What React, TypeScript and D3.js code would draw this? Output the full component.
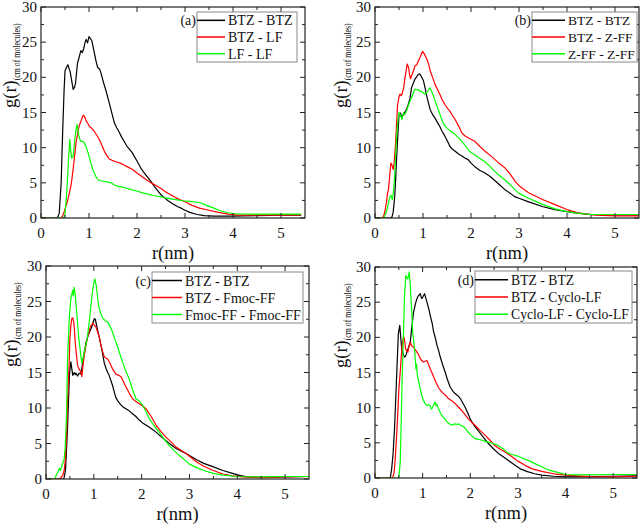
import React from "react";
import * as d3 from "d3";

type Pt = [number, number];

// ---------- data (r in nm, g(r)) ----------
const xTicks = [0, 1, 2, 3, 4, 5];
const yTicks = [0, 5, 10, 15, 20, 25, 30];

const aBtzBtz: Pt[] = [[0,0],[0.33,0],[0.36,0.3],[0.38,0.7],[0.42,5],[0.45,12],[0.48,18],[0.5,20.9],[0.53,21.4],[0.56,21.8],[0.61,20.7],[0.64,19.5],[0.67,18.3],[0.7,18.6],[0.72,19.2],[0.76,22],[0.8,23],[0.83,23.8],[0.86,23.5],[0.89,24.1],[0.92,25],[0.94,25.4],[0.97,24.9],[1.0,25.8],[1.03,25.5],[1.06,25.2],[1.11,23.5],[1.15,22.2],[1.18,21.4],[1.22,21.2],[1.25,20.6],[1.3,19.3],[1.35,18.2],[1.42,16.4],[1.48,14.8],[1.53,13.5],[1.58,12.8],[1.63,12.2],[1.68,11.5],[1.74,10.8],[1.8,10.1],[1.84,9.8],[1.9,9.3],[1.94,8.8],[2.0,8.1],[2.08,7.1],[2.15,6.4],[2.22,5.8],[2.29,5.2],[2.36,4.5],[2.43,3.9],[2.5,3.3],[2.57,2.9],[2.64,2.5],[2.75,2.0],[2.85,1.6],[2.92,1.4],[3.0,1.1],[3.1,0.8],[3.25,0.5],[3.4,0.35],[3.6,0.28],[4.0,0.28],[4.5,0.35],[5.0,0.4],[5.42,0.42]];
const aBtzLf: Pt[] = [[0,0],[0.42,0],[0.45,0.3],[0.49,1.0],[0.52,1.7],[0.56,2.6],[0.59,3.5],[0.63,4.8],[0.66,6.4],[0.7,8.8],[0.73,10.7],[0.77,12.3],[0.8,13.2],[0.84,13.9],[0.87,14.5],[0.89,14.6],[0.92,14.2],[0.94,13.8],[0.98,13.4],[1.01,13.0],[1.05,12.8],[1.11,12.3],[1.16,11.8],[1.22,11.1],[1.27,10.3],[1.32,9.5],[1.37,8.9],[1.42,8.4],[1.48,8.2],[1.56,8.0],[1.65,7.8],[1.74,7.5],[1.82,7.2],[1.91,6.9],[2.0,6.4],[2.08,6.0],[2.18,5.5],[2.29,5.0],[2.4,4.6],[2.5,4.2],[2.6,3.7],[2.7,3.3],[2.8,2.9],[2.9,2.6],[3.0,2.3],[3.15,1.8],[3.3,1.4],[3.5,1.1],[3.7,0.8],[3.9,0.55],[4.1,0.4],[4.5,0.4],[5.0,0.42],[5.42,0.45]];
const aLfLf: Pt[] = [[0,0],[0.47,0],[0.5,0.5],[0.54,4],[0.57,8],[0.6,11.2],[0.62,9.5],[0.64,8.5],[0.67,8.8],[0.7,10.8],[0.72,12.1],[0.75,13.3],[0.77,12.6],[0.78,11.9],[0.81,11.2],[0.83,10.9],[0.87,10.9],[0.9,10.7],[0.94,10.1],[0.97,9.5],[1.0,8.8],[1.04,7.8],[1.08,6.9],[1.11,6.4],[1.15,5.8],[1.19,5.4],[1.25,5.3],[1.32,5.2],[1.4,5.1],[1.46,5.0],[1.53,4.7],[1.6,4.5],[1.7,4.4],[1.8,4.2],[1.9,4.0],[2.01,3.8],[2.1,3.6],[2.22,3.4],[2.35,3.2],[2.5,3.0],[2.65,2.8],[2.8,2.6],[2.95,2.45],[3.1,2.35],[3.3,2.2],[3.45,1.8],[3.6,1.4],[3.75,1.0],[3.9,0.75],[4.05,0.6],[4.5,0.55],[5.0,0.55],[5.42,0.55]];

const bBtzBtz: Pt[] = [[0,0],[0.34,0],[0.36,0.3],[0.38,0.9],[0.41,3],[0.43,5.4],[0.45,8.5],[0.47,11.1],[0.49,13.5],[0.5,14.7],[0.53,14.9],[0.56,14.2],[0.59,14.8],[0.62,15],[0.66,15.5],[0.69,16.1],[0.73,17],[0.76,18.5],[0.8,19.2],[0.83,19.7],[0.87,20.1],[0.9,20.4],[0.93,20.5],[0.96,20.2],[1.01,19.5],[1.05,18.3],[1.08,17.3],[1.12,16.2],[1.15,15.4],[1.2,14.7],[1.25,14.2],[1.3,13.6],[1.35,13.0],[1.4,12.3],[1.46,11.6],[1.51,10.9],[1.56,10.2],[1.61,9.8],[1.67,9.5],[1.74,9.1],[1.81,8.8],[1.88,8.5],[1.94,8.3],[2.0,7.8],[2.08,7.3],[2.18,6.8],[2.29,6.4],[2.4,5.9],[2.5,5.3],[2.6,4.7],[2.71,4.0],[2.82,3.5],[2.92,3.0],[3.0,2.8],[3.2,2.3],[3.5,1.6],[3.75,1.2],[4.0,0.9],[4.25,0.65],[4.5,0.5],[5.0,0.45],[5.5,0.45]];
const bBtzZff: Pt[] = [[0,0],[0.16,0],[0.19,0.5],[0.21,1.1],[0.24,2.3],[0.26,3.5],[0.28,4],[0.3,5.5],[0.33,7.8],[0.35,7.6],[0.38,6.9],[0.4,8],[0.43,10.7],[0.45,13.5],[0.47,16.1],[0.5,17.2],[0.52,17.6],[0.55,17.4],[0.57,17.8],[0.6,18.6],[0.62,19.7],[0.65,21],[0.67,21.9],[0.7,21.4],[0.72,20.4],[0.74,19.8],[0.76,20.2],[0.8,20.9],[0.83,21.6],[0.87,21.8],[0.9,22.3],[0.95,23.0],[0.99,23.7],[1.03,23.3],[1.08,22.6],[1.12,21.8],[1.15,20.9],[1.2,20.0],[1.25,19.0],[1.3,18.3],[1.35,17.6],[1.4,16.8],[1.46,16.1],[1.51,15.6],[1.56,15.2],[1.61,14.6],[1.67,14.0],[1.74,13.1],[1.81,12.1],[1.87,11.7],[1.94,11.4],[2.0,11.2],[2.08,10.9],[2.18,10.2],[2.29,9.5],[2.4,8.9],[2.5,8.3],[2.6,7.7],[2.71,7.1],[2.82,6.2],[2.92,5.2],[3.0,4.6],[3.2,3.6],[3.5,2.6],[3.75,1.9],[4.0,1.2],[4.2,0.8],[4.4,0.55],[4.6,0.4],[5.0,0.3],[5.5,0.3]];
const bZffZff: Pt[] = [[0,0],[0.18,0],[0.21,0.4],[0.25,1.2],[0.28,2.1],[0.31,3.0],[0.34,3.2],[0.36,2.6],[0.38,3.5],[0.4,5],[0.42,7.5],[0.45,11.6],[0.48,14],[0.5,15],[0.53,14.6],[0.56,14],[0.59,14.9],[0.62,14.7],[0.66,15.3],[0.69,15.9],[0.72,16.5],[0.76,17.1],[0.8,17.8],[0.83,18.3],[0.87,18.2],[0.9,18.3],[0.94,18.0],[0.97,18.0],[1.0,17.8],[1.04,17.6],[1.07,17.8],[1.1,18],[1.13,18.4],[1.15,18.5],[1.18,18.0],[1.22,17.3],[1.27,16.3],[1.32,15.4],[1.37,14.4],[1.42,13.5],[1.47,13.0],[1.53,12.6],[1.6,12.2],[1.67,11.9],[1.74,11.4],[1.81,10.9],[1.88,10.3],[1.94,9.7],[2.0,9.3],[2.08,9.0],[2.18,8.5],[2.29,8.0],[2.4,7.3],[2.5,6.6],[2.6,6.0],[2.71,5.4],[2.82,4.7],[2.92,4.0],[3.0,3.5],[3.2,2.8],[3.5,1.9],[3.75,1.3],[4.0,0.9],[4.25,0.65],[4.5,0.5],[5.0,0.5],[5.5,0.5]];

const cBtzBtz: Pt[] = [[0,0],[0.37,0],[0.39,0.5],[0.41,1.5],[0.45,7.1],[0.47,11],[0.49,14.6],[0.51,16],[0.52,16.5],[0.54,15.5],[0.56,14.6],[0.59,15],[0.61,14.7],[0.63,14.9],[0.66,14.5],[0.69,14.9],[0.73,14.8],[0.76,16],[0.79,17.4],[0.84,19.3],[0.87,20.0],[0.91,20.7],[0.95,21.3],[0.98,21.9],[1.01,22.6],[1.03,22.5],[1.06,21.6],[1.09,20.6],[1.12,19.8],[1.16,18.5],[1.19,17.4],[1.22,16.3],[1.26,15.5],[1.29,15.0],[1.32,14.6],[1.36,13.8],[1.39,13.2],[1.43,12.2],[1.46,11.5],[1.5,11.0],[1.57,10.4],[1.62,10.1],[1.67,9.9],[1.74,9.6],[1.81,9.2],[1.88,8.8],[1.95,8.3],[2.02,7.9],[2.09,7.6],[2.2,7.1],[2.3,6.6],[2.4,6.0],[2.51,5.4],[2.62,4.8],[2.72,4.3],[2.83,3.9],[2.93,3.6],[3.0,3.3],[3.15,2.7],[3.3,2.2],[3.5,1.7],[3.7,1.2],[3.9,0.8],[4.05,0.5],[4.2,0.3],[4.5,0.25],[5.0,0.3],[5.5,0.35]];
const cBtzFmoc: Pt[] = [[0,0],[0.29,0],[0.32,0.3],[0.35,0.5],[0.38,1.2],[0.4,2.4],[0.43,6],[0.45,10.8],[0.48,15.5],[0.5,19.8],[0.52,21.6],[0.54,22.6],[0.56,22.7],[0.58,22.1],[0.6,20.5],[0.61,19.3],[0.64,17.3],[0.66,16.0],[0.69,15.5],[0.71,15.3],[0.73,15.1],[0.75,14.4],[0.77,15.8],[0.8,17.4],[0.84,19.0],[0.87,20.0],[0.91,21.0],[0.94,21.6],[0.98,21.9],[1.01,21.7],[1.05,21.3],[1.08,20.7],[1.12,19.8],[1.15,18.8],[1.19,17.8],[1.22,17.2],[1.26,17.0],[1.29,16.9],[1.33,16.4],[1.36,16.0],[1.4,15.4],[1.46,14.8],[1.52,14.6],[1.57,14.4],[1.62,13.7],[1.67,13.0],[1.74,12.1],[1.81,11.3],[1.88,10.9],[1.95,10.6],[2.02,10.3],[2.09,9.9],[2.2,8.8],[2.3,7.6],[2.4,6.7],[2.51,5.9],[2.62,5.2],[2.72,4.5],[2.83,4.0],[2.93,3.6],[3.0,3.2],[3.15,2.4],[3.3,1.8],[3.5,1.2],[3.7,0.7],[3.9,0.45],[4.1,0.3],[4.5,0.2],[5.0,0.3],[5.5,0.35]];
const cFmocFmoc: Pt[] = [[0,0],[0.19,0],[0.21,0.5],[0.25,1.0],[0.28,1.5],[0.3,1.2],[0.33,1.8],[0.35,2.2],[0.38,2.8],[0.4,4.3],[0.43,9],[0.45,16.5],[0.47,20],[0.49,23],[0.52,25.4],[0.54,26],[0.56,26.6],[0.57,25.8],[0.59,27],[0.61,26],[0.63,24.4],[0.66,22],[0.68,20.2],[0.71,18.5],[0.73,17.2],[0.75,16.3],[0.78,17.2],[0.8,17.9],[0.84,19],[0.87,20.2],[0.91,22.5],[0.94,24.4],[0.97,26.3],[1.0,27.6],[1.02,28.2],[1.05,27.3],[1.08,25.5],[1.1,24.4],[1.14,23.4],[1.19,22.6],[1.24,22.3],[1.29,22.1],[1.34,21.5],[1.39,20.7],[1.44,19.7],[1.5,18.6],[1.55,17.5],[1.6,16.5],[1.67,15.2],[1.74,14.1],[1.81,12.6],[1.88,11.3],[1.95,11.0],[2.02,10.4],[2.09,9.5],[2.16,8.5],[2.26,7.5],[2.37,6.6],[2.47,5.6],[2.58,4.7],[2.68,4.0],[2.79,3.3],[2.9,2.7],[3.0,2.1],[3.15,1.6],[3.3,1.2],[3.5,0.8],[3.7,0.55],[4.0,0.35],[4.5,0.3],[5.0,0.35],[5.5,0.35]];

const dBtzBtz: Pt[] = [[0,0],[0.32,0],[0.35,1.3],[0.38,3.5],[0.41,7],[0.44,12],[0.46,15.5],[0.49,20.5],[0.52,21.7],[0.54,20.0],[0.56,18.4],[0.59,17.6],[0.62,17.2],[0.64,17.3],[0.67,17.9],[0.7,18.5],[0.74,19.3],[0.77,21.3],[0.81,23.6],[0.85,24.8],[0.88,25.5],[0.91,25.9],[0.95,26.2],[0.98,25.5],[1.01,25.8],[1.04,26.2],[1.07,25.5],[1.09,25.0],[1.13,24.0],[1.16,23.1],[1.2,22.0],[1.23,20.8],[1.27,19.8],[1.3,18.9],[1.34,18.0],[1.37,17.2],[1.42,16.1],[1.47,15.1],[1.52,14.0],[1.58,12.9],[1.63,12.4],[1.68,12.0],[1.74,11.7],[1.79,11.3],[1.84,10.7],[1.89,10.1],[1.95,9.2],[2.0,8.4],[2.05,7.8],[2.1,7.3],[2.17,6.7],[2.24,6.1],[2.31,5.5],[2.38,4.9],[2.48,4.2],[2.59,3.5],[2.7,3.0],[2.8,2.5],[2.94,1.8],[3.05,1.3],[3.2,0.9],[3.35,0.6],[3.5,0.4],[3.75,0.25],[4.0,0.15],[4.5,0.2],[5.0,0.25],[5.5,0.3]];
const dBtzCyclo: Pt[] = [[0,0],[0.37,0],[0.4,0.8],[0.42,2.3],[0.45,5.5],[0.48,9.4],[0.5,12.5],[0.53,15.1],[0.55,17.2],[0.57,18.9],[0.59,19.8],[0.61,20.0],[0.63,19.2],[0.64,18.4],[0.67,18.0],[0.69,17.9],[0.71,18.6],[0.74,19.3],[0.77,18.8],[0.81,18.6],[0.84,18.3],[0.88,17.9],[0.91,17.6],[0.95,17.0],[0.98,16.7],[1.02,16.5],[1.05,16.6],[1.09,16.7],[1.12,16.2],[1.16,15.5],[1.2,14.9],[1.23,14.4],[1.28,13.6],[1.33,12.9],[1.38,12.4],[1.44,12.0],[1.49,11.7],[1.54,11.3],[1.61,11.0],[1.68,10.6],[1.75,10.1],[1.82,9.6],[1.89,9.0],[1.96,8.4],[2.03,7.9],[2.1,7.5],[2.2,6.8],[2.31,6.1],[2.41,5.4],[2.52,4.6],[2.63,4.1],[2.73,3.7],[2.84,3.2],[2.94,2.7],[3.0,2.4],[3.15,1.8],[3.3,1.3],[3.5,0.95],[3.75,0.6],[4.0,0.4],[4.5,0.2],[5.0,0.15],[5.5,0.25]];
const dCycloCyclo: Pt[] = [[0,0],[0.5,0],[0.53,2.3],[0.55,8],[0.57,14.1],[0.6,21],[0.62,26],[0.64,28.0],[0.65,28.8],[0.67,28.5],[0.69,28.3],[0.71,29.0],[0.72,29.3],[0.74,27.5],[0.76,25],[0.78,22.5],[0.79,20.8],[0.82,19.0],[0.84,17.4],[0.86,15.5],[0.87,16.2],[0.89,14.6],[0.92,13.6],[0.95,12.7],[0.98,11.8],[1.02,11.0],[1.05,10.6],[1.09,10.3],[1.12,10.4],[1.16,10.3],[1.18,9.8],[1.2,9.9],[1.23,10.4],[1.26,10.8],[1.28,10.3],[1.3,10.5],[1.33,9.9],[1.37,9.3],[1.4,8.9],[1.45,8.5],[1.51,8.0],[1.56,7.7],[1.61,7.5],[1.67,7.7],[1.72,7.6],[1.75,7.7],[1.8,7.5],[1.86,7.3],[1.91,6.9],[1.96,6.5],[2.03,6.0],[2.1,5.6],[2.17,5.5],[2.24,5.4],[2.31,5.2],[2.38,5.1],[2.48,4.9],[2.59,4.6],[2.7,4.1],[2.8,3.5],[2.9,3.3],[3.0,3.1],[3.1,2.8],[3.25,2.4],[3.4,1.9],[3.5,1.6],[3.62,1.2],[3.75,0.95],[3.9,0.7],[4.0,0.5],[4.25,0.45],[5.0,0.5],[5.5,0.5]];

const panelTags = ["(a)", "(b)", "(c)", "(d)"];
const labelsA = ["BTZ - BTZ", "BTZ - LF", "LF - LF"];
const labelsB = ["BTZ - BTZ", "BTZ - Z-FF", "Z-FF - Z-FF"];
const labelsC = ["BTZ - BTZ", "BTZ - Fmoc-FF", "Fmoc-FF - Fmoc-FF"];
const labelsD = ["BTZ - BTZ", "BTZ - Cyclo-LF", "Cyclo-LF - Cyclo-LF"];
const seriesColors = ["#000000", "#ff0000", "#00ff00"];

// ---------- layout ----------
const FONT = "Liberation Serif, Times New Roman, serif";

interface PanelCfg {
  id: string;
  tag: string;
  left: number; right: number; top: number; bottom: number;
  series: Pt[][];
  labels: string[];
  yLabelX: number;
  legend: { x: number; y: number; w: number; h: number; line: number; fs: number };
}

const panels: PanelCfg[] = [
  { id: "a", tag: panelTags[0], left: 41, right: 305, top: 7, bottom: 218, series: [aBtzBtz, aBtzLf, aLfLf], labels: labelsA, yLabelX: 16, legend: { x: 197, y: 12, w: 100, h: 50, line: 28, fs: 14 } },
  { id: "b", tag: panelTags[1], left: 375, right: 639, top: 7, bottom: 218, series: [bBtzBtz, bBtzZff, bZffZff], labels: labelsB, yLabelX: 347, legend: { x: 532, y: 12, w: 105, h: 50, line: 33, fs: 13.5 } },
  { id: "c", tag: panelTags[2], left: 46, right: 309, top: 266, bottom: 479, series: [cBtzBtz, cBtzFmoc, cFmocFmoc], labels: labelsC, yLabelX: 17, legend: { x: 152, y: 272, w: 151, h: 51, line: 30, fs: 14 } },
  { id: "d", tag: panelTags[3], left: 375, right: 637, top: 267, bottom: 478, series: [dBtzBtz, dBtzCyclo, dCycloCyclo], labels: labelsD, yLabelX: 347, legend: { x: 475, y: 271, w: 157, h: 52, line: 33, fs: 13.7 } },
];

function Panel({ p }: { p: PanelCfg }) {
  const x = d3.scaleLinear().domain([0, 5.5]).range([p.left, p.right]);
  const y = d3.scaleLinear().domain([0, 30]).range([p.bottom, p.top]);
  const line = d3.line<Pt>().x((d) => x(d[0])).y((d) => y(d[1]));
  const xMinor = d3.range(0.5, 5.5, 1);
  const yMinor = d3.range(2.5, 30, 5);
  const major = 5, minor = 3;
  const rowH = p.legend.h / 3;
  return (
    <g>
      <defs>
        <clipPath id={`clip-${p.id}`}>
          <rect x={p.left} y={p.top} width={p.right - p.left} height={p.bottom - p.top} />
        </clipPath>
      </defs>
      <g clipPath={`url(#clip-${p.id})`}>
        {p.series.map((s, i) => (
          <path key={i} d={line(s) || ""} fill="none" stroke={seriesColors[i]} strokeWidth={1.2} strokeLinejoin="round" />
        ))}
      </g>
      {/* ticks */}
      <g stroke="#222" strokeWidth={1}>
        {xTicks.map((t) => (
          <g key={`xt${t}`}>
            <line x1={x(t)} x2={x(t)} y1={p.bottom} y2={p.bottom - major} />
            <line x1={x(t)} x2={x(t)} y1={p.top} y2={p.top + major} />
          </g>
        ))}
        {xMinor.map((t) => (
          <g key={`xm${t}`}>
            <line x1={x(t)} x2={x(t)} y1={p.bottom} y2={p.bottom - minor} />
            <line x1={x(t)} x2={x(t)} y1={p.top} y2={p.top + minor} />
          </g>
        ))}
        {yTicks.map((t) => (
          <g key={`yt${t}`}>
            <line x1={p.left} x2={p.left + major} y1={y(t)} y2={y(t)} />
            <line x1={p.right} x2={p.right - major} y1={y(t)} y2={y(t)} />
          </g>
        ))}
        {yMinor.map((t) => (
          <g key={`ym${t}`}>
            <line x1={p.left} x2={p.left + minor} y1={y(t)} y2={y(t)} />
            <line x1={p.right} x2={p.right - minor} y1={y(t)} y2={y(t)} />
          </g>
        ))}
      </g>
      <rect x={p.left} y={p.top} width={p.right - p.left} height={p.bottom - p.top} fill="none" stroke="#222" strokeWidth={1.2} />
      {/* tick labels */}
      <g fontFamily={FONT} fontSize={15} fill="#111">
        {xTicks.map((t) => (
          <text key={`xl${t}`} x={x(t)} y={p.bottom + 20} textAnchor="middle">{t}</text>
        ))}
        {yTicks.map((t) => (
          <text key={`yl${t}`} x={p.left - 4} y={y(t) + 5} textAnchor="end">{t}</text>
        ))}
      </g>
      {/* axis titles */}
      <text x={(p.left + p.right) / 2} y={p.bottom + 41} textAnchor="middle" fontFamily={FONT} fontSize={18.5} fill="#111">r(nm)</text>
      <text transform={`translate(${p.yLabelX},${p.top + 101}) rotate(-90)`} fontFamily={FONT} fontSize={18.5} fill="#111">
        g(r)
        <tspan fontSize={10} dy={4} textLength={57} lengthAdjust="spacingAndGlyphs">(cm of molecules)</tspan>
      </text>
      {/* legend */}
      <rect x={p.legend.x} y={p.legend.y} width={p.legend.w} height={p.legend.h} fill="#fff" stroke="#8a8a8a" strokeWidth={1} />
      <text x={p.legend.x - 1} y={p.legend.y + rowH / 2 + 5} textAnchor="end" fontFamily={FONT} fontSize={14} fill="#111">{p.tag}</text>
      {p.labels.map((lab, i) => {
        const cy = p.legend.y + rowH * (i + 0.5);
        return (
          <g key={lab}>
            <line x1={p.legend.x} x2={p.legend.x + p.legend.line} y1={cy} y2={cy} stroke={seriesColors[i]} strokeWidth={1.5} />
            <text x={p.legend.x + p.legend.line + 3} y={cy + 5} fontFamily={FONT} fontSize={p.legend.fs} fill="#111">{lab}</text>
          </g>
        );
      })}
    </g>
  );
}

export default function App() {
  return (
    <svg width={640} height={524} style={{ position: "absolute", left: 0, top: 0, background: "#fff" }}>
      <rect width={640} height={524} fill="#fff" />
      {panels.map((p) => (
        <Panel key={p.id} p={p} />
      ))}
    </svg>
  );
}
